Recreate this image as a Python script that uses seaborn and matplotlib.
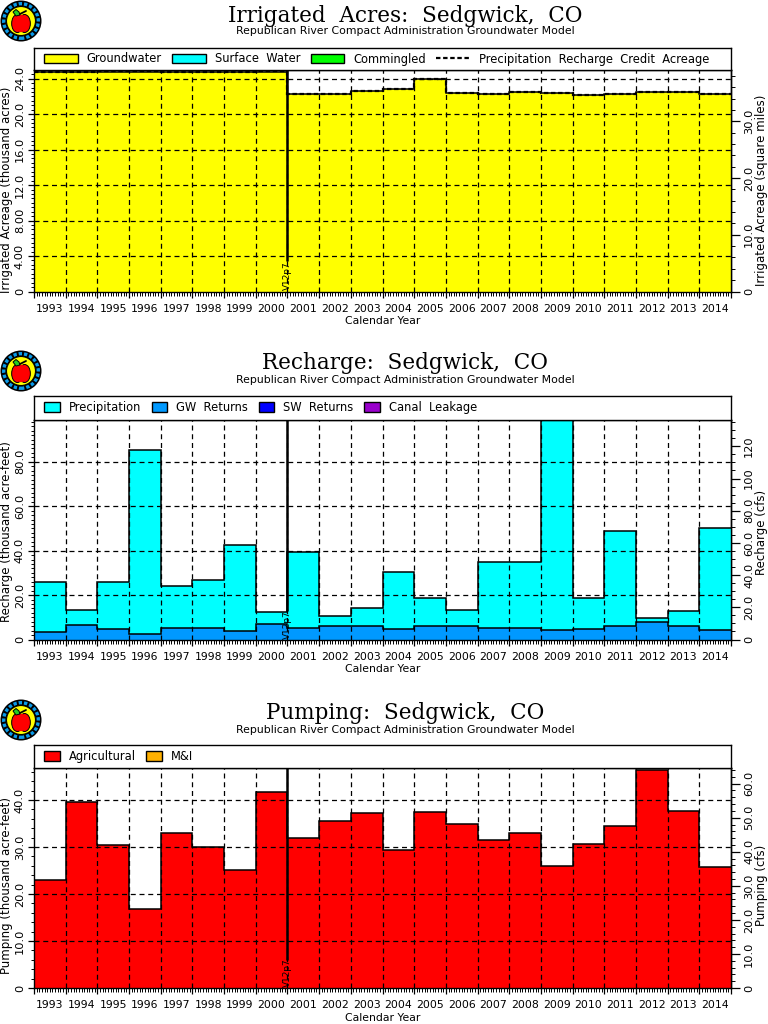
#!/usr/bin/env python3
"""Three panel groundwater model summary for Sedgwick, CO."""
import numpy as np
import pandas as pd
import matplotlib
matplotlib.use("Agg")
import matplotlib.pyplot as plt
import matplotlib.transforms as mtrans
import seaborn as sns
from matplotlib.lines import Line2D
from matplotlib.patches import Circle, Ellipse, Patch, Polygon
from matplotlib.ticker import FixedLocator, MultipleLocator

years = [str(y) for y in range(1993, 2015)]

groundwater = [24.7, 24.7, 24.8, 24.8, 24.7, 24.7, 24.7, 24.8, 22.3, 22.3, 22.6, 22.8,
               24.0, 22.4, 22.3, 22.5, 22.4, 22.2, 22.3, 22.5, 22.5, 22.3]
precip_credit = [24.7, 24.7, 24.85, 24.85, 24.7, 24.7, 24.7, 24.85, 22.3, 22.3, 22.6, 22.8,
                 24.0, 22.4, 22.3, 22.5, 22.4, 22.2, 22.3, 22.5, 22.5, 22.3]
recharge_total = [26.1, 13.5, 26.1, 85.2, 23.9, 26.6, 42.5, 12.2, 39.4, 10.4, 14.0, 30.6,
                  18.5, 13.5, 35.1, 34.7, 98.7, 18.5, 48.8, 9.9, 13.0, 50.1]
gw_returns = [3.6, 6.7, 4.9, 2.7, 5.4, 5.0, 4.0, 7.2, 5.4, 5.9, 6.3, 4.9,
              6.3, 5.9, 5.4, 5.4, 4.5, 4.9, 5.9, 8.1, 6.3, 4.5]
agricultural = [23.0, 39.6, 30.4, 16.8, 33.0, 30.0, 25.1, 41.7, 31.9, 35.5, 37.2, 29.4,
                37.4, 34.9, 31.5, 33.0, 26.0, 30.6, 34.5, 46.4, 37.7, 25.7]

SUBTITLE = "Republican River Compact Administration Groundwater Model"
W, H = 768, 1024
LEFT, RIGHT = 34, 731
STEP_EDGES = np.arange(len(years) + 1) - 0.5
SERIF = "DejaVu Serif"
GRID_DASH = (0, (4.0, 3.0))

sns.set_style("ticks")
plt.rcParams["font.family"] = ["DejaVu Sans"]
plt.rcParams.update({"text.color": "black", "axes.labelcolor": "black",
                     "xtick.color": "black", "ytick.color": "black"})

fig = plt.figure(figsize=(W / 100, H / 100), dpi=100, facecolor="white")

# pixel y coordinates measured from the top of the figure
pix_tf = mtrans.Affine2D().scale(1 / W, -1 / H).translate(0, 1) + fig.transFigure


def px_axes(x0, y0, x1, y1, **kw):
    return fig.add_axes([x0 / W, 1 - y1 / H, (x1 - x0) / W, (y1 - y0) / H], **kw)


def draw_logo(cx, cy):
    logo = px_axes(cx - 21, cy - 21, cx + 21, cy + 21)
    logo.set_xlim(-21, 21)
    logo.set_ylim(-21, 21)
    logo.axis("off")
    logo.add_patch(Circle((0, 0), 20.5, fc="black", ec="none"))
    logo.add_patch(Circle((0, 0), 17.3, fc="none", ec="#0a9bea", lw=2.4, ls=(0, (1.0, 0.6))))
    logo.add_patch(Circle((0, 0), 14.5, fc="#ffff00", ec="black", lw=0.8))
    logo.add_patch(Ellipse((-3.6, -2.5), 11.5, 18, fc="#ff0000", ec="black", lw=0.7))
    logo.add_patch(Ellipse((3.6, -2.5), 11.5, 18, fc="#ff0000", ec="black", lw=0.7))
    logo.add_patch(Ellipse((0, -2.5), 12, 17.4, fc="#ff0000", ec="none"))
    logo.plot([-1, 5], [7, 10], color="black", lw=1.3)
    logo.add_patch(Polygon([[-8, 9], [-5, 11.5], [-2, 9], [-1, 6], [-5, 5]],
                           fc="#22cc22", ec="black", lw=0.7))


def fmt(v):
    if v == 0:
        return "0"
    if v < 10:
        return f"{v:.2f}"
    if v >= 100:
        return f"{v:.0f}"
    return f"{v:.1f}"


def draw_panel(top, bottom, strip_top, title, title_y, sub_y, ymax, left_ticks, left_minor,
               right_ticks, right_minor, scale, left_label, right_label, legend_handles,
               handlelength, columnspacing, layers, dashed, line_end, tag_y, label_y):
    ax = px_axes(LEFT, top, RIGHT, bottom)
    x_pix = mtrans.blended_transform_factory(ax.transData, pix_tf)
    width = RIGHT - LEFT
    label_frac = (bottom - label_y) / (bottom - top)

    # stacked layers, biggest first
    for values, color in layers:
        df = pd.DataFrame({"year": years, "value": values})
        sns.barplot(data=df, x="year", y="value", order=years, color=color, width=1.0,
                    saturation=1, linewidth=0, ax=ax, errorbar=None, zorder=1)
        ax.stairs(values, STEP_EDGES, color="black", lw=1.1, zorder=2, baseline=None)

    if dashed is not None:
        ax.stairs(dashed, STEP_EDGES, color="black", lw=1.6, ls=(0, (2, 1.2)),
                  zorder=3, baseline=None)

    ax.set_xlim(-0.5, len(years) - 0.5)
    ax.set_ylim(0, ymax)
    ax.set_xlabel("")
    ax.set_ylabel(left_label, fontsize=8.5, va="center")
    ax.yaxis.set_label_coords((6.5 - LEFT) / width, label_frac)
    ax.text(0.5, bottom + 30, "Calendar Year", fontsize=7.8, ha="center", va="center",
            transform=mtrans.blended_transform_factory(ax.transAxes, pix_tf))

    # year labels sit in the gaps between the year ticks
    ax.xaxis.set_major_locator(FixedLocator(STEP_EDGES))
    ax.xaxis.set_minor_locator(FixedLocator(np.arange(-0.5, len(years) - 0.5 + 1e-6, 1 / 12)))
    ax.tick_params(axis="x", which="major", length=4.6, width=0.9, direction="out", labelbottom=False)
    ax.tick_params(axis="x", which="minor", length=2.8, width=0.7, direction="out")
    for i, y in enumerate(years):
        ax.text(i, bottom + 17, y, fontsize=7.8, ha="center", va="center", transform=x_pix)

    ax.yaxis.set_major_locator(FixedLocator(left_ticks))
    ax.yaxis.set_minor_locator(MultipleLocator(left_minor))
    ax.set_yticklabels([fmt(v) for v in left_ticks], rotation=90, va="center", fontsize=8.2)
    ax.tick_params(axis="y", which="major", length=4.5, width=0.9, pad=2)
    ax.tick_params(axis="y", which="minor", length=2.4, width=0.7)

    ax.grid(False)
    for x in STEP_EDGES[1:-1]:
        ax.axvline(x, color="black", lw=0.9, ls=GRID_DASH, zorder=4)
    for v in left_ticks[1:]:
        ax.axhline(v, color="black", lw=0.9, ls=GRID_DASH, zorder=4)

    # model version marker between 2000 and 2001
    ax.plot([7.5, 7.5], [line_end, ymax], color="black", lw=1.8, zorder=5, solid_capstyle="butt")
    ax.text(7.5, tag_y, "V12p7", rotation=90, fontsize=6.4, ha="center", va="center", zorder=6,
            transform=x_pix)

    sec = ax.secondary_yaxis("right", functions=(lambda v: v * scale, lambda v: v / scale))
    sec.yaxis.set_major_locator(FixedLocator(right_ticks))
    sec.yaxis.set_minor_locator(MultipleLocator(right_minor))
    sec.set_yticklabels([fmt(v) for v in right_ticks], rotation=90, va="center", fontsize=8.2)
    sec.tick_params(axis="y", which="major", length=6.5, width=0.9, pad=3)
    sec.tick_params(axis="y", which="minor", length=3, width=0.7)
    # secondary axis has no width of its own, so place its label in pixels
    fig.text(761 / W, 1 - label_y / H, right_label, fontsize=8.5, rotation=90,
             ha="center", va="center")
    sns.despine(ax=ax, top=False, right=False)

    for spine in list(ax.spines.values()) + list(sec.spines.values()):
        spine.set_linewidth(1)
        spine.set_color("black")

    # legend strip sits directly on the plot
    strip = px_axes(LEFT, strip_top, RIGHT, top)
    strip.set_xticks([])
    strip.set_yticks([])
    for spine in strip.spines.values():
        spine.set_linewidth(1)
        spine.set_color("black")
    strip.legend(handles=legend_handles, loc="center left", bbox_to_anchor=(0.0145, 0.5),
                 ncol=len(legend_handles), frameon=False, fontsize=8.3, handlelength=handlelength,
                 handleheight=0.9, handletextpad=0.8, columnspacing=columnspacing,
                 borderpad=0, borderaxespad=0)

    fig.text(405 / W, 1 - title_y / H, title, fontsize=15.5, family=SERIF, ha="center", va="center")
    fig.text(405 / W, 1 - sub_y / H, SUBTITLE, fontsize=7.85, ha="center", va="center")
    return ax


def swatch(color, label):
    return Patch(facecolor=color, edgecolor="black", linewidth=1, label=label)


draw_panel(70, 291.5, 48, "Irrigated  Acres:  Sedgwick,  CO", 16, 31, 24.98,
           [0, 4, 8, 12, 16, 20, 24], 0.5, [0, 10, 20, 30], 2, 1.5625,
           "Irrigated Acreage (thousand acres)", "Irrigated Acreage (square miles)",
           [swatch("#ffff00", "Groundwater"), swatch("#00ffff", "Surface  Water"),
            swatch("#00ff00", "Commingled"),
            Line2D([], [], color="black", lw=1.6, ls=(0, (2, 1.2)),
                   label="Precipitation  Recharge  Credit  Acreage")],
           2.9, 0.9, [(groundwater, "#ffff00")], precip_credit, 3.4, 276, 190)

draw_panel(419.5, 639.5, 396, "Recharge:  Sedgwick,  CO", 363, 380, 99.0,
           [0, 20, 40, 60, 80], 2, [0, 20, 40, 60, 80, 100, 120], 5, 1 / 0.7245,
           "Recharge (thousand acre-feet)", "Recharge (cfs)",
           [swatch("#00ffff", "Precipitation"), swatch("#0099ff", "GW  Returns"),
            swatch("#0000ff", "SW  Returns"), swatch("#9900cc", "Canal  Leakage")],
           1.35, 0.9, [(recharge_total, "#00ffff"), (gw_returns, "#0099ff")], None, 13, 625, 532)

draw_panel(767.5, 988, 745, "Pumping:  Sedgwick,  CO", 713, 730, 46.9,
           [0, 10, 20, 30, 40], 2, [0, 10, 20, 30, 40, 50, 60], 2, 1 / 0.7245,
           "Pumping (thousand acre-feet)", "Pumping (cfs)",
           [swatch("#ff0000", "Agricultural"), swatch("#ffb000", "M&I")],
           1.35, 0.9, [(agricultural, "#ff0000")], None, 5.9, 973, 885)

for cy in (21, 371, 720):
    draw_logo(21, cy)

fig.savefig("out.png", dpi=100)
plt.close(fig)
